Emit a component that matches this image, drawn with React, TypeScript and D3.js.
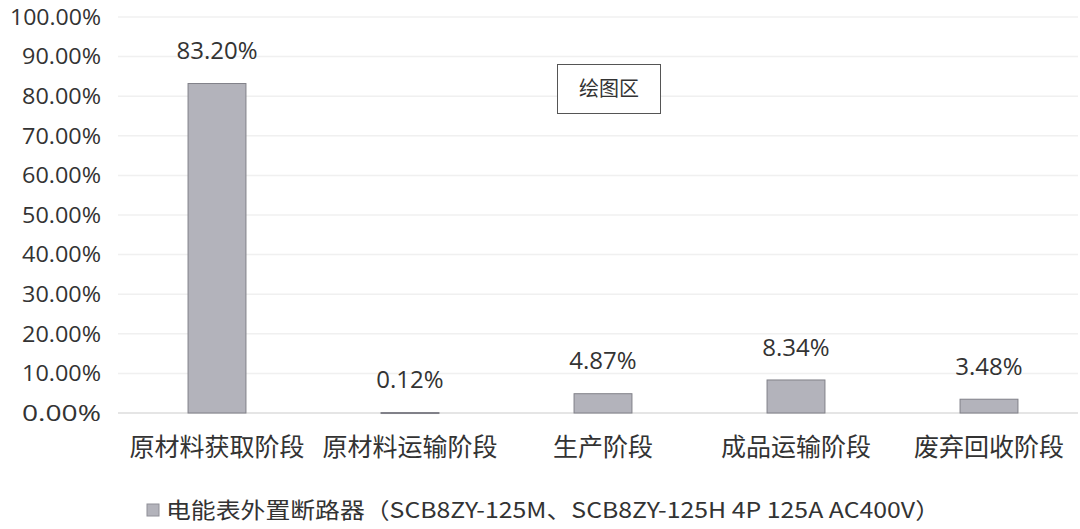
import React from "react";
import * as d3 from "d3";

const categories = ["原材料获取阶段", "原材料运输阶段", "生产阶段", "成品运输阶段", "废弃回收阶段"];
const values = [83.2, 0.12, 4.87, 8.34, 3.48];
const valueLabels = ["83.20%", "0.12%", "4.87%", "8.34%", "3.48%"];
const yTicks = [0, 10, 20, 30, 40, 50, 60, 70, 80, 90, 100];
const seriesName = "电能表外置断路器（SCB8ZY-125M、SCB8ZY-125H 4P 125A AC400V）";
const plotAreaLabel = "绘图区";

const W = 1080;
const H = 529;
const NUM_FONT = "'Open Sans', 'Noto Sans', sans-serif";
const CJK_FONT = "'Noto Sans CJK SC', sans-serif";

export default function App() {
  const x = d3.scaleBand<string>().domain(categories).range([120.5, 1085.5]).paddingInner(0.7).paddingOuter(0.35);
  const y = d3.scaleLinear().domain([0, 100]).range([413, 17]);

  return (
    <svg width={W} height={H} style={{ position: "absolute", left: 0, top: 0, background: "#fff" }}>
      <rect x={0} y={0} width={W} height={H} fill="#ffffff" />
      {yTicks.map((t) => (
        <g key={t}>
          {t > 0 && (
            <line x1={118} x2={1078} y1={y(t)} y2={y(t)} stroke="#f0f0f0" strokeWidth={1.5} />
          )}
          <text x={101} y={y(t)} dy="0.36em" textAnchor="end" fontFamily={NUM_FONT} fontSize={21.5} fill="#333" textLength={t === 100 ? 91 : 79} lengthAdjust="spacingAndGlyphs">
            {t.toFixed(2) + "%"}
          </text>
        </g>
      ))}
      <line x1={118} x2={1078} y1={y(0)} y2={y(0)} stroke="#dcdcdc" strokeWidth={1.5} />
      {categories.map((c, i) => {
        const bx = x(c)!;
        const bw = x.bandwidth();
        const top = y(values[i]);
        return (
          <g key={c}>
            <rect x={bx} y={top} width={bw} height={Math.max(y(0) - top, 1)} fill="#b3b3bb" stroke="#808088" strokeWidth={1} />
            <text x={bx + bw / 2} y={top - 33} dy="0.36em" textAnchor="middle" fontFamily={NUM_FONT} fontSize={24} fill="#333">
              {valueLabels[i]}
            </text>
            <text x={bx + bw / 2} y={447} dy="0.36em" textAnchor="middle" fontFamily={CJK_FONT} fontSize={25} fill="#333">
              {c}
            </text>
          </g>
        );
      })}
      <rect x={557.5} y={64.5} width={103} height={49} fill="#fff" stroke="#555" strokeWidth={1} />
      <text x={609} y={89} dy="0.36em" textAnchor="middle" fontFamily={CJK_FONT} fontSize={20} fill="#333">
        {plotAreaLabel}
      </text>
      <rect x={147} y={504} width={12} height={12} fill="#b3b3bb" stroke="#909098" strokeWidth={1} />
      <text x={166} y={510} dy="0.36em" fontFamily={CJK_FONT} fontSize={22} fill="#333" textLength={774} lengthAdjust="spacingAndGlyphs">
        {seriesName}
      </text>
    </svg>
  );
}
